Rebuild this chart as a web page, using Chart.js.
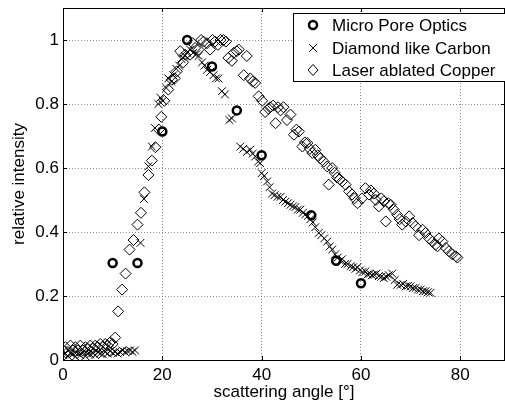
<!DOCTYPE html>
<html>
<head>
<meta charset="utf-8">
<script src="https://cdn.jsdelivr.net/npm/chart.js@4/dist/chart.umd.min.js"></script>
<style>
  html, body { margin: 0; padding: 0; background: #fff; overflow: hidden; }
  #wrap { position: relative; width: 505px; height: 407px; }
</style>
</head>
<body>
<div id="wrap"><canvas id="chart"></canvas></div>
<script>
// values
const seriesNames = ['Micro Pore Optics', 'Diamond like Carbon', 'Laser ablated Copper'];

const mpoAngle = [10, 15, 20, 25, 30, 35, 40, 50, 55, 60];
const mpoIntensity = [0.303, 0.303, 0.714, 1.0, 0.917, 0.78, 0.64, 0.452, 0.31, 0.24];

const dlcAngle = [
  0, 0.5, 1, 1.5, 2, 2.5, 3, 3.5, 4, 4.5,
  5, 5.5, 6, 6.5, 7, 7.5, 8, 8.5, 9, 9.5,
  10, 10.5, 11, 11.5, 12, 12.5, 13, 13.5, 14, 14.5,
  15.6, 16.3, 17.2, 17.9, 18.5, 19.2, 19.6, 20.1, 20.8, 21.2,
  21.8, 22.2, 22.8, 23.4, 23.9, 24.5, 25.0, 25.6, 26.2, 26.8,
  27.3, 28.0, 28.5, 29.0, 29.6, 30.3, 30.8, 31.3, 32.0, 32.6,
  33.5, 34.0,
  35.7, 36.3, 37.0, 37.7, 38.2, 38.7, 39.3, 39.7, 40.0, 40.5,
  41.1, 41.6, 42.1, 42.6, 43.2, 43.8, 44.3, 44.8, 45.3, 45.8,
  46.3, 46.8, 47.3, 47.8, 48.3, 48.8, 49.3, 49.8, 50.3, 50.8,
  51.5, 52.0, 52.6, 53.2, 53.7, 54.2, 54.8, 55.3, 55.8, 56.2,
  56.8, 57.3, 57.9, 58.4, 58.9, 59.3, 59.8, 60.3, 60.9, 61.3,
  61.8, 62.2, 62.6, 63.1, 63.6, 64.1, 64.6, 65.1, 65.6, 66.3,
  66.8, 67.3, 68.0, 68.5, 69.0, 69.5, 70.0, 70.5, 71.0, 71.5,
  72.0, 72.5, 73.0, 73.5, 74.0
];
const dlcIntensity = [
  0.015, 0.02, 0.012, 0.022, 0.018, 0.01, 0.02, 0.015, 0.025, 0.012,
  0.02, 0.018, 0.022, 0.015, 0.025, 0.02, 0.018, 0.025, 0.02, 0.028,
  0.022, 0.025, 0.02, 0.025, 0.03, 0.025, 0.028, 0.03, 0.025, 0.03,
  0.366, 0.503, 0.605, 0.667, 0.725, 0.8, 0.82, 0.81, 0.85, 0.88,
  0.87, 0.89, 0.91, 0.92, 0.94, 0.95, 0.96, 0.97, 0.96, 0.955,
  0.95, 0.93, 0.92, 0.907, 0.9, 0.89, 0.88, 0.88, 0.84, 0.83,
  0.75, 0.755,
  0.667, 0.66, 0.65, 0.657, 0.645, 0.636, 0.62, 0.615, 0.584, 0.575,
  0.558, 0.54, 0.52, 0.515, 0.51, 0.51, 0.5, 0.495, 0.49, 0.485,
  0.48, 0.478, 0.47, 0.47, 0.46, 0.455, 0.45, 0.44, 0.43, 0.415,
  0.397, 0.39, 0.38, 0.37, 0.355, 0.345, 0.33, 0.32, 0.31, 0.315,
  0.3, 0.3, 0.293, 0.29, 0.285, 0.29, 0.28, 0.275, 0.277, 0.267,
  0.27, 0.265, 0.267, 0.27, 0.262, 0.26, 0.256, 0.26, 0.265, 0.27,
  0.25, 0.235, 0.235, 0.238, 0.23, 0.232, 0.23, 0.225, 0.225, 0.22,
  0.22, 0.215, 0.215, 0.212, 0.21
];

const copperAngle = [
  0, 0.5, 1, 1.5, 2, 2.5, 3, 3.5, 4, 4.5,
  5, 5.5, 6, 6.5, 7, 7.5, 8, 8.5, 9, 9.5,
  10, 10.5, 11.1, 11.9, 12.6, 13.4, 14.2, 15.0, 15.7, 16.4,
  17.2, 17.9, 18.6, 19.3, 19.8, 20.4, 21.2, 21.9, 22.5, 22.9,
  23.6, 24.2, 24.6, 25.6, 26.1, 26.6, 27.3, 27.8, 28.3, 29.0,
  29.6, 30.1, 30.6, 31.2, 31.7, 32.3, 32.8, 33.3, 34.0, 34.4,
  35.0, 35.4, 36.4, 37.0, 37.7, 38.2, 38.7, 39.4, 40.1, 40.7,
  41.4, 41.7, 42.3, 42.8, 43.3, 43.8, 44.4, 45.1, 45.8, 46.5,
  47.0, 47.5, 48.2, 48.7, 49.2, 49.7, 50.2, 50.8, 51.3, 51.8,
  52.5, 53.2, 53.5, 54.2, 54.7, 55.2, 55.7, 56.2, 56.9, 57.6,
  58.2, 58.7, 59.3, 60.2, 60.9, 61.6, 62.0, 62.6, 63.0, 63.6,
  64.1, 64.6, 65.0, 65.5, 66.0, 66.6, 67.3, 67.8, 68.3, 69.0,
  69.7, 70.4, 71.0, 71.7, 72.4, 73.0, 73.7, 74.4, 75.0, 75.4,
  75.7, 76.4, 77.1, 77.7, 78.4, 79.1, 79.4
];
const copperIntensity = [
  0.03, 0.04, 0.025, 0.045, 0.03, 0.04, 0.03, 0.045, 0.03, 0.04,
  0.035, 0.045, 0.035, 0.045, 0.04, 0.05, 0.04, 0.05, 0.045, 0.055,
  0.05, 0.07, 0.152, 0.22, 0.27, 0.345, 0.375, 0.423, 0.46, 0.524,
  0.578, 0.623, 0.665, 0.72, 0.76, 0.81, 0.845, 0.876, 0.88, 0.902,
  0.965, 0.93, 0.954, 0.954, 0.99, 0.975, 0.97, 1.0, 0.995, 0.99,
  0.97, 1.0, 0.995, 0.985, 1.0, 1.0, 0.995, 0.944, 0.935, 0.96,
  0.965, 0.97, 0.89, 0.95, 0.88, 0.87, 0.866, 0.824, 0.81, 0.775,
  0.785, 0.79, 0.795, 0.74, 0.79, 0.78, 0.79, 0.75, 0.767, 0.704,
  0.72, 0.714, 0.667, 0.68, 0.678, 0.66, 0.647, 0.657, 0.64, 0.63,
  0.62, 0.605, 0.548, 0.6, 0.585, 0.57, 0.565, 0.558, 0.548, 0.527,
  0.517, 0.505, 0.49, 0.505, 0.537, 0.517, 0.53, 0.52, 0.5, 0.48,
  0.505, 0.496, 0.433, 0.49, 0.485, 0.47, 0.454, 0.44, 0.423, 0.433,
  0.449, 0.428, 0.418, 0.39, 0.407, 0.397, 0.38, 0.37, 0.36, 0.355,
  0.38, 0.37, 0.35, 0.34, 0.33, 0.324, 0.32
];

const xTicks = [0, 20, 40, 60, 80];
const yTicks = [0, 0.2, 0.4, 0.6, 0.8, 1];

const FONT = '"Liberation Sans", Arial, Helvetica, sans-serif';

function toPoints(xs, ys) {
  return xs.map((x, i) => ({ x: x, y: ys[i] }));
}

// no extra room for the end labels, the axes fill the figure like in matlab
function noLabelPadding(scale) {
  scale.paddingLeft = 0;
  scale.paddingRight = 0;
  scale.paddingTop = 0;
  scale.paddingBottom = 0;
}

// matlab style box round the axes, with short inward ticks
const boxPlugin = {
  id: 'matlabBox',
  afterDraw(chart) {
    const ctx = chart.ctx;
    const a = chart.chartArea;
    ctx.save();
    ctx.strokeStyle = '#000';
    ctx.lineWidth = 1;
    ctx.strokeRect(Math.round(a.left) + 0.5, Math.round(a.top) + 0.5,
      Math.round(a.right - a.left) - 1, Math.round(a.bottom - a.top));
    ctx.beginPath();
    chart.scales.x.ticks.forEach(t => {
      let px = Math.round(chart.scales.x.getPixelForValue(t.value)) + 0.5;
      ctx.moveTo(px, a.bottom); ctx.lineTo(px, a.bottom - 4);
      ctx.moveTo(px, a.top); ctx.lineTo(px, a.top + 4);
    });
    chart.scales.y.ticks.forEach(t => {
      let py = Math.round(chart.scales.y.getPixelForValue(t.value)) + 0.5;
      ctx.moveTo(a.left, py); ctx.lineTo(a.left + 4, py);
      ctx.moveTo(a.right, py); ctx.lineTo(a.right - 4, py);
    });
    ctx.stroke();
    ctx.restore();
  }
};

// legend sits inside the axes, top right, like the original
const legendPlugin = {
  id: 'insideLegend',
  afterDraw(chart) {
    const ctx = chart.ctx;
    const left = 293.5, top = 13.5, bottom = 81.5;
    const right = chart.width + 5;
    ctx.save();
    ctx.fillStyle = '#fff';
    ctx.fillRect(left, top, right - left, bottom - top);
    ctx.strokeStyle = '#000';
    ctx.lineWidth = 1;
    ctx.strokeRect(left, top, right - left, bottom - top);

    const rows = [25, 48, 70];
    const mx = 313;
    ctx.font = '17px ' + FONT;
    ctx.textBaseline = 'middle';
    ctx.textAlign = 'left';
    rows.forEach((y, i) => {
      ctx.beginPath();
      if (i === 0) {
        ctx.lineWidth = 2.5;
        ctx.arc(mx, y, 4, 0, Math.PI * 2);
      } else if (i === 1) {
        ctx.lineWidth = 1;
        ctx.moveTo(mx - 4, y - 4); ctx.lineTo(mx + 4, y + 4);
        ctx.moveTo(mx - 4, y + 4); ctx.lineTo(mx + 4, y - 4);
      } else {
        ctx.lineWidth = 1;
        ctx.moveTo(mx, y - 5.5); ctx.lineTo(mx + 5, y);
        ctx.lineTo(mx, y + 5.5); ctx.lineTo(mx - 5, y);
        ctx.closePath();
      }
      ctx.stroke();
      ctx.fillStyle = '#000';
      ctx.fillText(seriesNames[i], 332, y + 1);
    });
    ctx.restore();
  }
};

const ctx = document.getElementById('chart');

new Chart(ctx, {
  type: 'scatter',
  data: {
    datasets: [
      {
        label: seriesNames[0],
        data: toPoints(mpoAngle, mpoIntensity),
        pointStyle: 'circle',
        pointRadius: 4,
        pointBorderWidth: 2.5,
        borderColor: '#000',
        backgroundColor: 'rgba(0,0,0,0)'
      },
      {
        label: seriesNames[1],
        data: toPoints(dlcAngle, dlcIntensity),
        pointStyle: 'crossRot',
        pointRadius: 5.5,
        pointBorderWidth: 1,
        borderColor: '#000',
        backgroundColor: 'rgba(0,0,0,0)'
      },
      {
        label: seriesNames[2],
        data: toPoints(copperAngle, copperIntensity),
        pointStyle: 'rectRot',
        pointRadius: 5.5,
        pointBorderWidth: 1,
        borderColor: '#000',
        backgroundColor: 'rgba(0,0,0,0)'
      }
    ]
  },
  options: {
    responsive: true,
    maintainAspectRatio: false,
    animation: false,
    events: [],
    layout: { autoPadding: false, padding: { top: 8, right: 0, left: 0, bottom: 0 } },
    plugins: {
      legend: { display: false },
      tooltip: { enabled: false }
    },
    scales: {
      x: {
        type: 'linear',
        min: 0,
        max: 89,
        afterBuildTicks(scale) { scale.ticks = xTicks.map(v => ({ value: v })); },
        afterFit(scale) { scale.height = 47; noLabelPadding(scale); },
        grid: { color: '#8a8a8a', lineWidth: 1, drawTicks: false },
        border: { display: false, dash: [1, 2] },
        ticks: { color: '#000', padding: 5, font: { family: FONT, size: 17 } },
        title: {
          display: true,
          text: 'scattering angle [°]',
          color: '#000',
          font: { family: FONT, size: 17 },
          padding: { top: 0, bottom: 4 }
        }
      },
      y: {
        type: 'linear',
        min: 0,
        max: 1.1,
        afterBuildTicks(scale) { scale.ticks = yTicks.map(v => ({ value: v })); },
        afterFit(scale) { scale.width = 63; noLabelPadding(scale); },
        grid: { color: '#8a8a8a', lineWidth: 1, drawTicks: false },
        border: { display: false, dash: [1, 2] },
        ticks: {
          color: '#000',
          padding: 4,
          font: { family: FONT, size: 17 },
          callback: (v) => String(Math.round(v * 10) / 10)
        },
        title: {
          display: true,
          text: 'relative intensity',
          color: '#000',
          font: { family: FONT, size: 17 },
          padding: { top: 9, bottom: 0 }
        }
      }
    }
  },
  plugins: [boxPlugin, legendPlugin]
});
</script>
</body>
</html>
